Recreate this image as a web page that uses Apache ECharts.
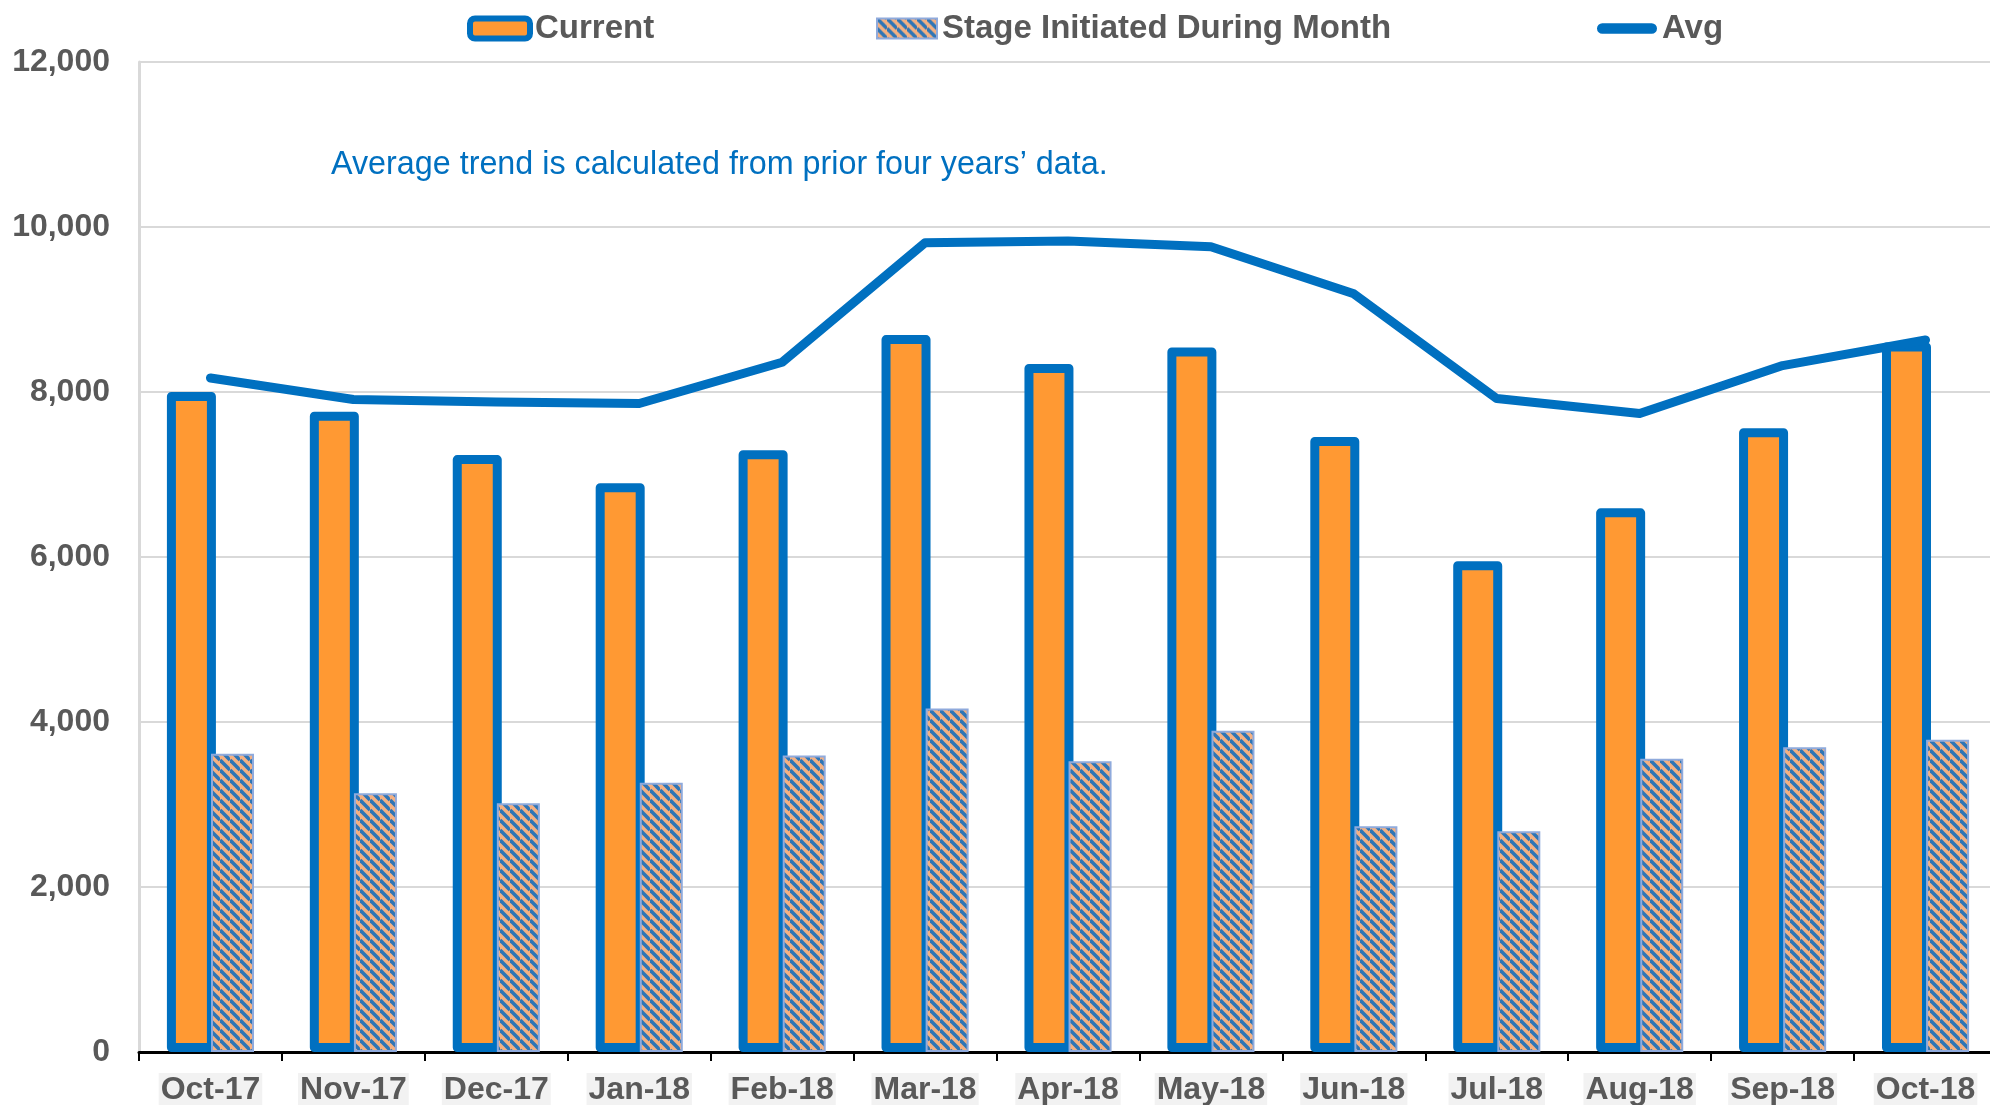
<!DOCTYPE html>
<html>
<head>
<meta charset="utf-8">
<title>Current vs Stage Initiated</title>
<script src="https://cdn.jsdelivr.net/npm/echarts@6/dist/echarts.min.js"></script>
<style>
    html, body { margin: 0; padding: 0; background: #fff; }
    #chart { width: 1990px; height: 1105px; }
</style>
</head>
<body>
<div id="chart"></div>
<script>
    // values
    const categories = ["Oct-17", "Nov-17", "Dec-17", "Jan-18", "Feb-18", "Mar-18", "Apr-18",
        "May-18", "Jun-18", "Jul-18", "Aug-18", "Sep-18", "Oct-18"];
    const currentValues = [8000, 7760, 7235, 6895, 7295, 8690, 8340, 8540, 7455, 5950, 6590, 7560, 8600];
    const stageValues = [3615, 3135, 3015, 3265, 3595, 4165, 3525, 3895, 2735, 2675, 3555, 3695, 3785];
    const avgValues = [8170, 7910, 7880, 7860, 8360, 9810, 9830, 9760, 9190, 7920, 7740, 8320, 8630];
    const legendNames = ["Current", "Stage Initiated During Month", "Avg"];
    const note = "Average trend is calculated from prior four years\u2019 data.";

    const FONT = "'Liberation Sans', Arial, sans-serif";
    const BLUE = "#0070C0";
    const GREY_TEXT = "#595959";

    // hatch tile for the "stage initiated" bars
    function makeHatch() {
        const s = 10;
        const c = document.createElement("canvas");
        c.width = s;
        c.height = s;
        const ctx = c.getContext("2d");
        ctx.fillStyle = "#F4B183";
        ctx.fillRect(0, 0, s, s);
        ctx.strokeStyle = "#2E75B6";
        ctx.lineWidth = 3.6;
        for (let k = -1; k <= 1; k++) {
            ctx.beginPath();
            ctx.moveTo(0, k * s);
            ctx.lineTo(s, s + k * s);
            ctx.stroke();
        }
        return c;
    }
    const hatch = { image: makeHatch(), repeat: "repeat" };

    const legendText = { color: GREY_TEXT, fontSize: 33, fontWeight: "bold", fontFamily: FONT };

    function oneLegend(left, item) {
        return {
            left: left,
            top: 12,
            padding: 0,
            itemWidth: 60,
            itemHeight: 20,
            textStyle: legendText,
            selectedMode: false,
            data: [item]
        };
    }

    const chart = echarts.init(document.getElementById("chart"), null, { renderer: "canvas" });

    const option = {
        animation: false,
        backgroundColor: "#fff",
        legend: [
            oneLegend(467, { name: legendNames[0], icon: "roundRect",
                itemStyle: { color: "#FF9933", borderColor: BLUE, borderWidth: 6 } }),
            oneLegend(876, { name: legendNames[1], icon: "rect",
                itemStyle: { color: hatch, borderColor: "#8FAADC", borderWidth: 2 } }),
            oneLegend(1597, { name: legendNames[2],
                icon: "path://M6,0 L62,0 A6,6 0 0 1 62,12 L6,12 A6,6 0 0 1 6,0 Z",
                itemStyle: { color: BLUE, borderWidth: 0 } })
        ],
        grid: {
            left: 139,
            width: 1858,
            top: 62,
            bottom: 53,
            containLabel: false,
            outerBoundsMode: "none"
        },
        xAxis: {
            type: "category",
            data: categories,
            axisLine: { show: true, lineStyle: { color: "#000", width: 3 } },
            axisTick: { show: true, alignWithLabel: false, length: 9, lineStyle: { color: "#000", width: 2 } },
            axisLabel: {
                interval: 0,
                margin: 21,
                color: GREY_TEXT,
                fontSize: 32,
                fontWeight: "bold",
                fontFamily: FONT,
                backgroundColor: "#F2F2F2",
                padding: [1, 2, 1, 2]
            },
            splitLine: { show: false }
        },
        yAxis: {
            type: "value",
            min: 0,
            max: 12000,
            interval: 2000,
            axisLine: { show: true, lineStyle: { color: "#D9D9D9", width: 3 } },
            axisTick: { show: false },
            axisLabel: {
                margin: 29,
                color: GREY_TEXT,
                fontSize: 32,
                fontWeight: "bold",
                fontFamily: FONT,
                formatter: v => v.toLocaleString("en-US")
            },
            splitLine: { show: true, lineStyle: { color: "#D9D9D9", width: 2 } }
        },
        graphic: [
            {
                type: "text",
                x: 331,
                y: 165,
                style: {
                    text: note,
                    fill: BLUE,
                    font: "32.3px " + FONT,
                    verticalAlign: "middle"
                }
            }
        ],
        series: [
            {
                name: legendNames[0],
                type: "bar",
                data: currentValues,
                barWidth: 49,
                barGap: "-10%",
                itemStyle: {
                    color: "#FF9933",
                    borderColor: BLUE,
                    borderWidth: 9,
                    borderJoin: "round"
                }
            },
            {
                name: legendNames[1],
                type: "bar",
                data: stageValues,
                barWidth: 43,
                barGap: "-10%",
                itemStyle: {
                    color: hatch,
                    borderColor: "#8FAADC",
                    borderWidth: 2
                }
            },
            {
                name: legendNames[2],
                type: "line",
                data: avgValues,
                symbol: "none",
                showSymbol: false,
                z: 5,
                lineStyle: { color: BLUE, width: 9, cap: "round", join: "round" },
                itemStyle: { color: BLUE }
            }
        ]
    };

    chart.setOption(option);
</script>
</body>
</html>
